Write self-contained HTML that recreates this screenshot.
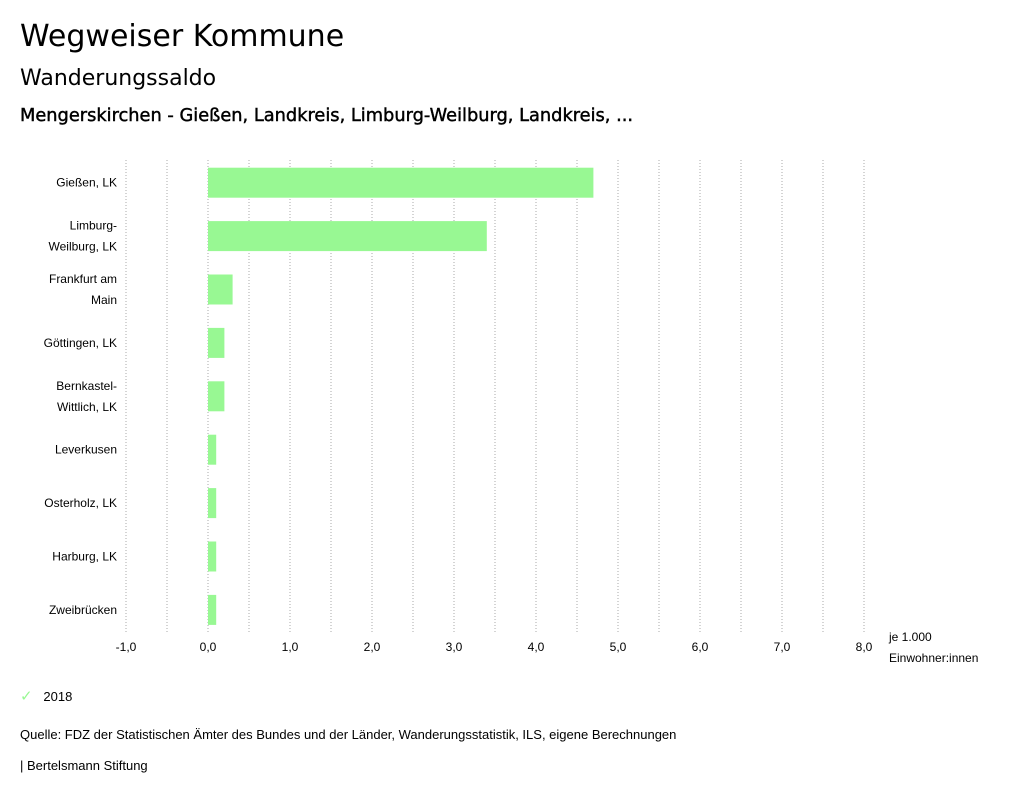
<!DOCTYPE html>
<html><head><meta charset="utf-8">
<style>
body{margin:0;width:1024px;height:798px;background:#fff;font-family:"Liberation Sans","DejaVu Sans",sans-serif;color:#000;position:relative;overflow:hidden}
.t{position:absolute;white-space:nowrap}
</style></head><body>
<div class="t" style="left:20px;top:19px;font-size:30px;font-family:'DejaVu Sans',sans-serif">Wegweiser Kommune</div>
<div class="t" style="left:20px;top:66px;font-size:22px;font-family:'DejaVu Sans',sans-serif">Wanderungssaldo</div>
<div class="t" style="left:20px;top:105px;font-size:17.8px;-webkit-text-stroke:0.45px #000;font-family:'DejaVu Sans',sans-serif">Mengerskirchen - Gießen, Landkreis, Limburg-Weilburg, Landkreis, ...</div>
<svg id="chart" width="1024" height="798" style="position:absolute;left:0;top:0"></svg>
<div class="t" style="left:20px;top:687px;font-size:13px"><span style="color:#98f893;font-size:15px">✓</span>&nbsp;&nbsp;&nbsp;2018</div>
<div class="t" style="left:20px;top:727px;font-size:13px">Quelle: FDZ der Statistischen Ämter des Bundes und der Länder, Wanderungsstatistik, ILS, eigene Berechnungen</div>
<div class="t" style="left:20px;top:758px;font-size:13px">| Bertelsmann Stiftung</div>
<script>
const categories=[["Gießen, LK"],["Limburg-","Weilburg, LK"],["Frankfurt am","Main"],["Göttingen, LK"],["Bernkastel-","Wittlich, LK"],["Leverkusen"],["Osterholz, LK"],["Harburg, LK"],["Zweibrücken"]];
const values2018=[4.7,3.4,0.3,0.2,0.2,0.1,0.1,0.1,0.1];
const tickValues=[-1,0,1,2,3,4,5,6,7,8];
const tickLabels=["-1,0","0,0","1,0","2,0","3,0","4,0","5,0","6,0","7,0","8,0"];
const svg=document.getElementById('chart');const NS='http://www.w3.org/2000/svg';
const x=v=>208+v*82;
const top0=156,rowH=53.4;
const y=i=>top0+i*rowH;
function mk(t,a){const e=document.createElementNS(NS,t);for(const k in a)e.setAttribute(k,a[k]);svg.appendChild(e);return e;}
for(let v=-1;v<=8.001;v+=0.5){
 const g=mk('line',{x1:x(v),x2:x(v),y1:160,y2:632,stroke:'#aaa','stroke-dasharray':'1,2','stroke-width':1});
 
 
}
tickValues.forEach((v,i)=>{
 const t=mk('text',{x:x(v),y:651,'text-anchor':'middle','font-size':12,fill:'#000'});t.textContent=tickLabels[i];
 
 
});
categories.forEach((c,i)=>{
 const cy=y(i)+rowH/2;
 const b=mk('rect',{x:x(0),y:cy-15,width:x(values2018[i])-x(0),height:30,fill:'#98f893'});
 
 
 c.forEach((line,j)=>{
  const t=mk('text',{x:117,y:cy+4+(j-(c.length-1)/2)*21,'text-anchor':'end','font-size':12,fill:'#000'});t.textContent=line;
  
  
 });
});
const u1=mk('text',{x:889,y:641,'font-size':12});u1.textContent='je 1.000';


const u2=mk('text',{x:889,y:662,'font-size':12});u2.textContent='Einwohner:innen';


</script>
</body></html>
